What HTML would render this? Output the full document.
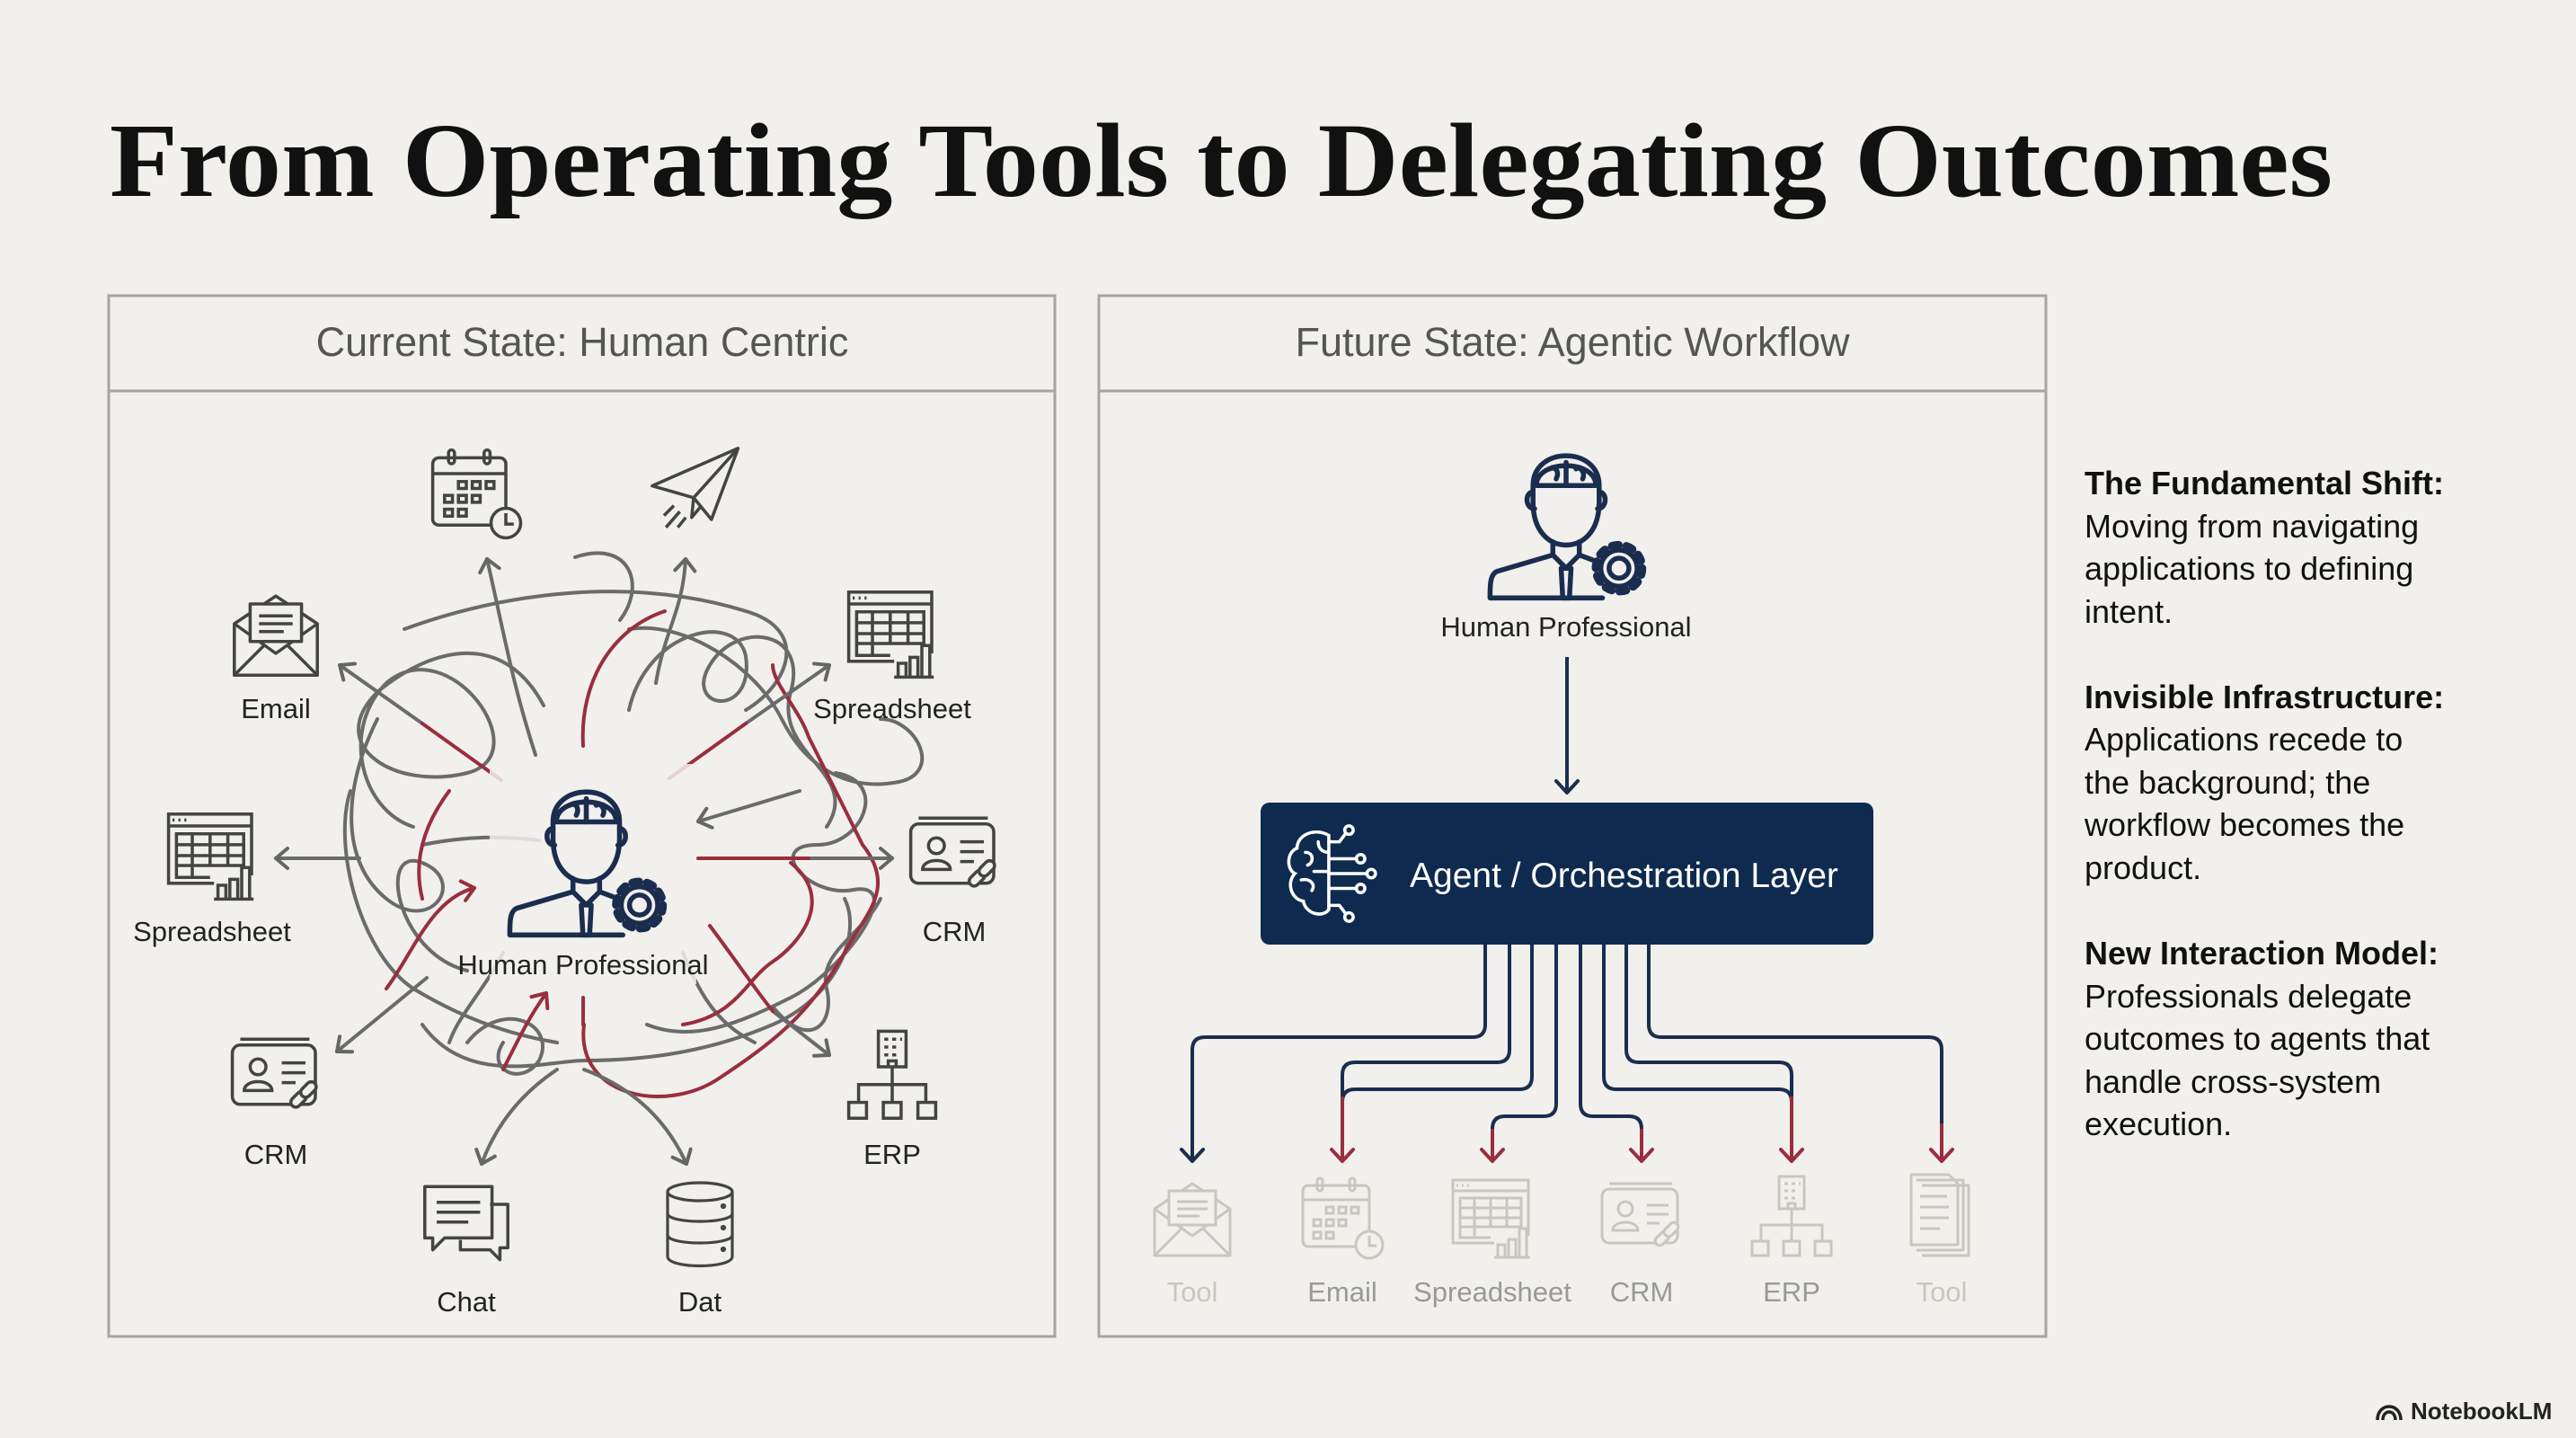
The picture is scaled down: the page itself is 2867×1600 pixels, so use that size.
<!DOCTYPE html>
<html><head><meta charset="utf-8"><style>
html,body{margin:0;padding:0;background:#f1f0ec;}
svg{display:block;}
</style></head><body>
<svg width="2867" height="1600" viewBox="0 0 2867 1600" xmlns="http://www.w3.org/2000/svg">
<defs>
<marker id="ag" viewBox="-20 -20 40 40" refX="0" refY="0" markerWidth="40" markerHeight="40" orient="auto" markerUnits="userSpaceOnUse"><path d="M-13,-11 L0,0 L-13,11" fill="none" stroke="#666" stroke-width="4" stroke-linecap="round" stroke-linejoin="round"/></marker>
<marker id="ar" viewBox="-20 -20 40 40" refX="0" refY="0" markerWidth="40" markerHeight="40" orient="auto" markerUnits="userSpaceOnUse"><path d="M-13,-11 L0,0 L-13,11" fill="none" stroke="#9a2e3e" stroke-width="4" stroke-linecap="round" stroke-linejoin="round"/></marker>
<marker id="an" viewBox="-20 -20 40 40" refX="0" refY="0" markerWidth="40" markerHeight="40" orient="auto" markerUnits="userSpaceOnUse"><path d="M-13,-12 L0,0 L-13,12" fill="none" stroke="#1b2d4f" stroke-width="4" stroke-linecap="round" stroke-linejoin="round"/></marker>
<marker id="ar2" viewBox="-20 -20 40 40" refX="0" refY="0" markerWidth="40" markerHeight="40" orient="auto" markerUnits="userSpaceOnUse"><path d="M-13,-12 L0,0 L-13,12" fill="none" stroke="#9a2e3e" stroke-width="4" stroke-linecap="round" stroke-linejoin="round"/></marker>

<symbol id="env" viewBox="0 0 100 100"><g fill="none" stroke-linejoin="round"><path d="M8,40 L50,12 L92,40 L92,92 L8,92 Z"/><path d="M8,40 L50,70 L92,40"/><path d="M8,92 L38,62 M92,92 L62,62"/><rect x="24" y="20" width="52" height="38" fill="#f1f0ec"/><path d="M33,32 H67 M33,40 H67 M33,48 H58"/></g></symbol>
<symbol id="cal" viewBox="0 0 100 100"><g fill="none"><rect x="6" y="14" width="74" height="68" rx="6"/><path d="M6,30 H80"/><rect x="22" y="6" width="6" height="14" rx="3"/><rect x="58" y="6" width="6" height="14" rx="3"/><rect x="32" y="38" width="8" height="7"/><rect x="46" y="38" width="8" height="7"/><rect x="60" y="38" width="8" height="7"/><rect x="18" y="52" width="8" height="7"/><rect x="32" y="52" width="8" height="7"/><rect x="46" y="52" width="8" height="7"/><rect x="18" y="66" width="8" height="7"/><rect x="32" y="66" width="8" height="7"/><circle cx="80" cy="80" r="15" fill="#f1f0ec"/><path d="M80,70 V81 H88"/></g></symbol>
<symbol id="plane" viewBox="0 0 100 100"><g fill="none" stroke-linejoin="round"><path d="M8,46 L95,8 L68,80 L50,58 Z"/><path d="M95,8 L50,58 L48,78 L58,66"/><path d="M30,66 L20,76 M36,72 L22,88 M42,78 L34,88"/></g></symbol>
<symbol id="sheet" viewBox="0 0 100 100"><g fill="none"><rect x="6" y="8" width="84" height="70"/><path d="M6,20 H90 M10,14 h2 M16,14 h2 M22,14 h2"/><path d="M14,28 H82 V60 H14 Z M14,39 H82 M14,50 H82 M30,28 V72 M48,28 V60 M66,28 V60 M14,60 V72 H48"/><rect x="52" y="70" width="40" height="24" fill="#f1f0ec" stroke="none"/><path d="M56,94 V80 H64 V94 M68,94 V74 H76 V94 M80,94 V62 H88 V94 M52,94 H92"/></g></symbol>
<symbol id="crm" viewBox="0 0 100 100"><g fill="none"><rect x="6" y="18" width="84" height="60" rx="8"/><path d="M14,12 H84"/><circle cx="32" cy="40" r="8"/><path d="M18,64 C18,52 46,52 46,64 Z"/><path d="M56,36 H80 M56,46 H80 M56,56 H70"/><rect x="64" y="68" width="18" height="10" rx="5" transform="rotate(-45 73 73)" fill="#f1f0ec"/><rect x="74" y="58" width="18" height="10" rx="5" transform="rotate(-45 83 63)" fill="#f1f0ec"/></g></symbol>
<symbol id="erp" viewBox="0 0 100 100"><g fill="none"><rect x="36" y="4" width="28" height="36"/><path d="M42,12 h4 M50,12 h4 M58,12 h2 M42,20 h4 M50,20 h4 M42,28 h4 M50,28 h4 M46,40 V34 H54 V40"/><path d="M50,40 V58 M16,76 V58 H84 V76 M50,58 V76"/><rect x="6" y="76" width="18" height="16"/><rect x="41" y="76" width="18" height="16"/><rect x="76" y="76" width="18" height="16"/></g></symbol>
<symbol id="chat" viewBox="0 0 100 100"><g fill="none" stroke-linejoin="round"><path d="M74,30 H92 V74 H84 V86 L74,76 H44 V66"/><path d="M8,12 H76 V64 H28 L16,76 V64 H8 Z"/><path d="M20,28 H64 M20,38 H64 M20,48 H52"/></g></symbol>
<symbol id="db" viewBox="0 0 100 100"><g fill="none"><ellipse cx="50" cy="14" rx="36" ry="10"/><path d="M14,14 V86 C14,100 86,100 86,86 V14"/><path d="M14,38 C14,50 86,50 86,38 M14,62 C14,74 86,74 86,62"/><circle cx="76" cy="30" r="1.5"/><circle cx="76" cy="54" r="1.5"/><circle cx="76" cy="78" r="1.5"/></g></symbol>
<symbol id="doc" viewBox="0 0 100 100"><g fill="none" stroke-linejoin="round"><path d="M28,14 H80 V92 H28"/><path d="M22,8 H74 V86 H22"/><path d="M16,2 H58 L68,12 V80 H16 Z"/><path d="M26,26 H56 M26,38 H58 M26,50 H58 M26,62 H48"/></g></symbol>
<symbol id="person" viewBox="0 0 100 100"><g fill="none" stroke-linejoin="round" stroke-linecap="round"><path d="M30,30 C30,6 70,6 70,30 L70,40 C70,58 60,66 50,66 C40,66 30,58 30,40 Z"/><path d="M30,34 C25,34 25,44 31,44 M70,34 C75,34 75,44 69,44"/><path d="M32,30 C32,14 68,14 68,30 Z"/><path d="M40,20 C44,18 46,22 44,26 M50,16 V30 M56,20 C58,18 62,22 60,26"/><path d="M42,64 L42,72 L8,82 C4,84 4,90 4,98 H72"/><path d="M58,64 L58,72 L66,75"/><path d="M42,72 L50,80 L58,72 M47,80 L53,80 L52,98 L48,98 Z"/><circle cx="82" cy="80" r="6"/><circle cx="82" cy="80" r="11"/><circle cx="82" cy="80" r="14" stroke-dasharray="4 4.8" stroke-width="5"/></g></symbol>
<symbol id="brain" viewBox="0 0 100 100"><g fill="none" stroke-linecap="round"><path d="M44,14 C30,6 14,14 14,26 C4,30 4,46 12,50 C4,58 8,74 20,76 C22,88 38,92 44,84 Z"/><path d="M22,30 C30,30 30,40 24,42 M18,56 C26,54 32,60 28,66 M34,20 C34,28 40,30 44,30 M30,48 H44"/><path d="M44,20 H54 L60,12 M44,36 H70 M44,50 H80 M44,64 H70 M44,80 H54 L60,88"/><circle cx="63" cy="9" r="4"/><circle cx="74" cy="36" r="4"/><circle cx="84" cy="50" r="4"/><circle cx="74" cy="64" r="4"/><circle cx="63" cy="91" r="4"/></g></symbol>
</defs>

<rect width="2867" height="1600" fill="#f1f0ec"/>

<text x="122" y="218" font-family="Liberation Serif, serif" font-weight="bold" font-size="118" fill="#111" textLength="2474" lengthAdjust="spacingAndGlyphs">From Operating Tools to Delegating Outcomes</text>

<rect x="121" y="329" width="1053" height="1158" fill="#f1f0ec" stroke="#a5a5a3" stroke-width="3"/>
<line x1="121" y1="435" x2="1174" y2="435" stroke="#a5a5a3" stroke-width="3"/>
<text x="648" y="396" text-anchor="middle" font-family="Liberation Sans, sans-serif" font-size="45" fill="#555">Current State: Human Centric</text>

<rect x="1223" y="329" width="1054" height="1158" fill="#f1f0ec" stroke="#a5a5a3" stroke-width="3"/>
<line x1="1223" y1="435" x2="2277" y2="435" stroke="#a5a5a3" stroke-width="3"/>
<text x="1750" y="396" text-anchor="middle" font-family="Liberation Sans, sans-serif" font-size="45" fill="#555">Future State: Agentic Workflow</text>

<g fill="none" stroke="#6b6b6b" stroke-width="4" stroke-linecap="round">
<path d="M605,785 C560,700 480,720 420,770 C360,830 440,880 520,860 C600,840 500,700 430,760 C380,810 400,900 460,920"/>
<path d="M700,790 C720,700 820,680 830,730 C840,800 760,790 790,740 C820,690 900,700 880,770 C860,840 960,860 920,920"/>
<path d="M420,800 C380,880 380,960 430,1000 C480,1040 520,980 470,960 C420,940 440,1060 520,1080"/>
<path d="M930,860 C990,870 960,940 910,940 C850,940 900,1000 950,990 C1010,980 940,1080 880,1110 C820,1140 770,1160 720,1140"/>
<path d="M450,700 C560,660 700,640 830,680 C900,700 880,760 830,790"/>
<path d="M470,1140 C520,1210 610,1180 650,1180 C720,1180 790,1170 860,1140 C930,1110 960,1040 940,1000"/>
<path d="M520,1160 C560,1110 620,1140 600,1180 C580,1210 540,1190 560,1160"/>
<path d="M860,1120 C900,1170 930,1140 920,1100 C910,1060 960,1040 980,1000"/>
<path d="M700,700 C760,690 840,740 870,800 C900,860 950,880 1000,870 C1050,860 1020,800 980,800"/>
<path d="M390,880 C370,940 400,1060 460,1100 C510,1130 560,1150 620,1160"/>
<path d="M760,1060 C780,1110 800,1140 840,1160"/>
<path d="M560,1060 C540,1100 510,1130 500,1160"/>
<path d="M470,940 C520,930 560,930 600,935"/>
<path d="M640,620 C700,600 720,650 690,690"/>
</g>
<g fill="none" stroke="#9a2e3e" stroke-width="4" stroke-linecap="round">
<path d="M880,960 C930,1000 890,1050 860,1070 C830,1090 820,1130 760,1140"/>
<path d="M650,1140 C640,1220 740,1240 800,1200 C860,1160 900,1130 940,1060 C960,1020 1000,990 960,940 C940,900 920,860 900,820 C890,790 860,760 860,740"/>
<path d="M500,880 C470,920 460,960 470,1000"/>
</g>
<g fill="none" stroke="#6b6b6b" stroke-width="4" stroke-linecap="round">
<path d="M470,805 L378,740" marker-end="url(#ag)"/>
<path d="M830,805 L923,740" marker-end="url(#ag)"/>
<path d="M900,955 L993,955" marker-end="url(#ag)"/>
<path d="M400,955 L307,955" marker-end="url(#ag)"/>
<path d="M475,1088 L375,1170" marker-end="url(#ag)"/>
<path d="M860,1125 L923,1174" marker-end="url(#ag)"/>
<path d="M620,1190 Q560,1230 536,1295" marker-end="url(#ag)"/>
<path d="M650,1190 Q730,1220 764,1295" marker-end="url(#ag)"/>
<path d="M596,840 C570,760 560,700 542,622" marker-end="url(#ag)"/>
<path d="M730,760 C740,700 760,680 763,622" marker-end="url(#ag)"/>
<path d="M890,880 L777,914" marker-end="url(#ag)"/>
</g>
<g fill="none" stroke="#9a2e3e" stroke-width="4" stroke-linecap="round">
<path d="M558,868 L470,805"/>
<path d="M745,866 L830,805"/>
<path d="M777,955 L900,955"/>
<path d="M649,830 C645,760 680,700 740,680"/>
<path d="M430,1100 C460,1060 480,1000 528,988" marker-end="url(#ar)"/>
<path d="M560,1190 C580,1150 590,1130 608,1105" marker-end="url(#ar)"/>
<path d="M790,1030 C820,1070 840,1100 860,1125"/>
<path d="M649,1110 L649,1140"/>
</g>
<rect x="545" y="850" width="230" height="245" fill="#f1f0ec" opacity="0.85"/>

<g stroke="#444" stroke-width="3.2">
<use href="#cal" x="475" y="494" width="110" height="110"/>
<use href="#plane" x="717" y="490" width="110" height="110"/>
<use href="#env" x="252" y="650" width="110" height="110"/>
<use href="#sheet" x="938" y="650" width="110" height="110"/>
<use href="#sheet" x="181" y="897" width="110" height="110"/>
<use href="#crm" x="1007" y="897" width="110" height="110"/>
<use href="#crm" x="252" y="1143" width="110" height="110"/>
<use href="#erp" x="938" y="1143" width="110" height="110"/>
<use href="#chat" x="464" y="1307" width="110" height="110"/>
<use href="#db" x="729" y="1307" width="100" height="110"/>
</g>
<use href="#person" x="560" y="859" width="185" height="185" stroke="#1b2d4f" stroke-width="3"/>

<g font-family="Liberation Sans, sans-serif" font-size="31" fill="#222" text-anchor="middle">
<text x="649" y="1084">Human Professional</text>
<text x="307" y="799">Email</text>
<text x="993" y="799">Spreadsheet</text>
<text x="236" y="1047">Spreadsheet</text>
<text x="1062" y="1047">CRM</text>
<text x="307" y="1295">CRM</text>
<text x="993" y="1295">ERP</text>
<text x="519" y="1459">Chat</text>
<text x="779" y="1459">Dat</text>
</g>

<use href="#person" x="1651" y="485" width="184" height="184" stroke="#1b2d4f" stroke-width="3"/>
<text x="1743" y="708" text-anchor="middle" font-family="Liberation Sans, sans-serif" font-size="31" fill="#222">Human Professional</text>
<line x1="1744" y1="731" x2="1744" y2="882" stroke="#1b2d4f" stroke-width="4" marker-end="url(#an)"/>
<rect x="1403" y="893" width="682" height="158" rx="10" fill="#0f2a4f"/>
<use href="#brain" x="1427" y="913" width="118" height="118" stroke="#fff" stroke-width="3"/>
<text x="1569" y="987" font-family="Liberation Sans, sans-serif" font-size="39" fill="#fff">Agent / Orchestration Layer</text>

<g fill="none" stroke="#1b2d4f" stroke-width="4">
<path d="M1653,1051 V1140 Q1653,1154 1639,1154 H1341 Q1327,1154 1327,1168 V1292" marker-end="url(#an)"/>
<path d="M1680,1051 V1168 Q1680,1182 1666,1182 H1508 Q1494,1182 1494,1196 V1220"/>
<path d="M1705,1051 V1198 Q1705,1212 1691,1212 H1508 Q1494,1212 1494,1226"/>
<path d="M1732,1051 V1228 Q1732,1242 1718,1242 H1675 Q1661,1242 1661,1256"/>
<path d="M1759,1051 V1228 Q1759,1242 1773,1242 H1813 Q1827,1242 1827,1256"/>
<path d="M1785,1051 V1198 Q1785,1212 1799,1212 H1980 Q1994,1212 1994,1226"/>
<path d="M1810,1051 V1168 Q1810,1182 1824,1182 H1980 Q1994,1182 1994,1196 V1220"/>
<path d="M1835,1051 V1140 Q1835,1154 1849,1154 H2147 Q2161,1154 2161,1168 V1250"/>
</g>
<g fill="none" stroke="#9a2e3e" stroke-width="4">
<path d="M1494,1220 V1292" marker-end="url(#ar2)"/>
<path d="M1661,1256 V1292" marker-end="url(#ar2)"/>
<path d="M1827,1256 V1292" marker-end="url(#ar2)"/>
<path d="M1994,1220 V1292" marker-end="url(#ar2)"/>
<path d="M2161,1250 V1292" marker-end="url(#ar2)"/>
</g>

<g stroke="#c9c6c0" stroke-width="3">
<use href="#env" x="1277" y="1305" width="100" height="100"/>
<use href="#cal" x="1444" y="1305" width="100" height="100"/>
<use href="#sheet" x="1611" y="1305" width="100" height="100"/>
<use href="#crm" x="1777" y="1305" width="100" height="100"/>
<use href="#erp" x="1944" y="1305" width="100" height="100"/>
<use href="#doc" x="2111" y="1305" width="100" height="100"/>
</g>
<g font-family="Liberation Sans, sans-serif" font-size="31" text-anchor="middle">
<text x="1327" y="1448" fill="#c9c6c0">Tool</text>
<text x="1494" y="1448" fill="#999">Email</text>
<text x="1661" y="1448" fill="#999">Spreadsheet</text>
<text x="1827" y="1448" fill="#999">CRM</text>
<text x="1994" y="1448" fill="#999">ERP</text>
<text x="2161" y="1448" fill="#c9c6c0">Tool</text>
</g>

<g font-family="Liberation Sans, sans-serif" font-size="36" fill="#111">
<text x="2320" y="550" font-weight="bold">The Fundamental Shift:</text>
<text x="2320" y="598">Moving from navigating</text>
<text x="2320" y="645">applications to defining</text>
<text x="2320" y="693">intent.</text>
<text x="2320" y="788" font-weight="bold">Invisible Infrastructure:</text>
<text x="2320" y="835">Applications recede to</text>
<text x="2320" y="883">the background; the</text>
<text x="2320" y="930">workflow becomes the</text>
<text x="2320" y="978">product.</text>
<text x="2320" y="1073" font-weight="bold">New Interaction Model:</text>
<text x="2320" y="1121">Professionals delegate</text>
<text x="2320" y="1168">outcomes to agents that</text>
<text x="2320" y="1216">handle cross-system</text>
<text x="2320" y="1263">execution.</text>
</g>

<path d="M2646,1580 C2646,1560 2672,1560 2672,1580 M2652,1580 C2652,1568 2666,1568 2666,1580" fill="none" stroke="#222" stroke-width="3.5"/>
<text x="2683" y="1579" font-family="Liberation Sans, sans-serif" font-size="26" font-weight="bold" fill="#222">NotebookLM</text>
</svg>
</body></html>
